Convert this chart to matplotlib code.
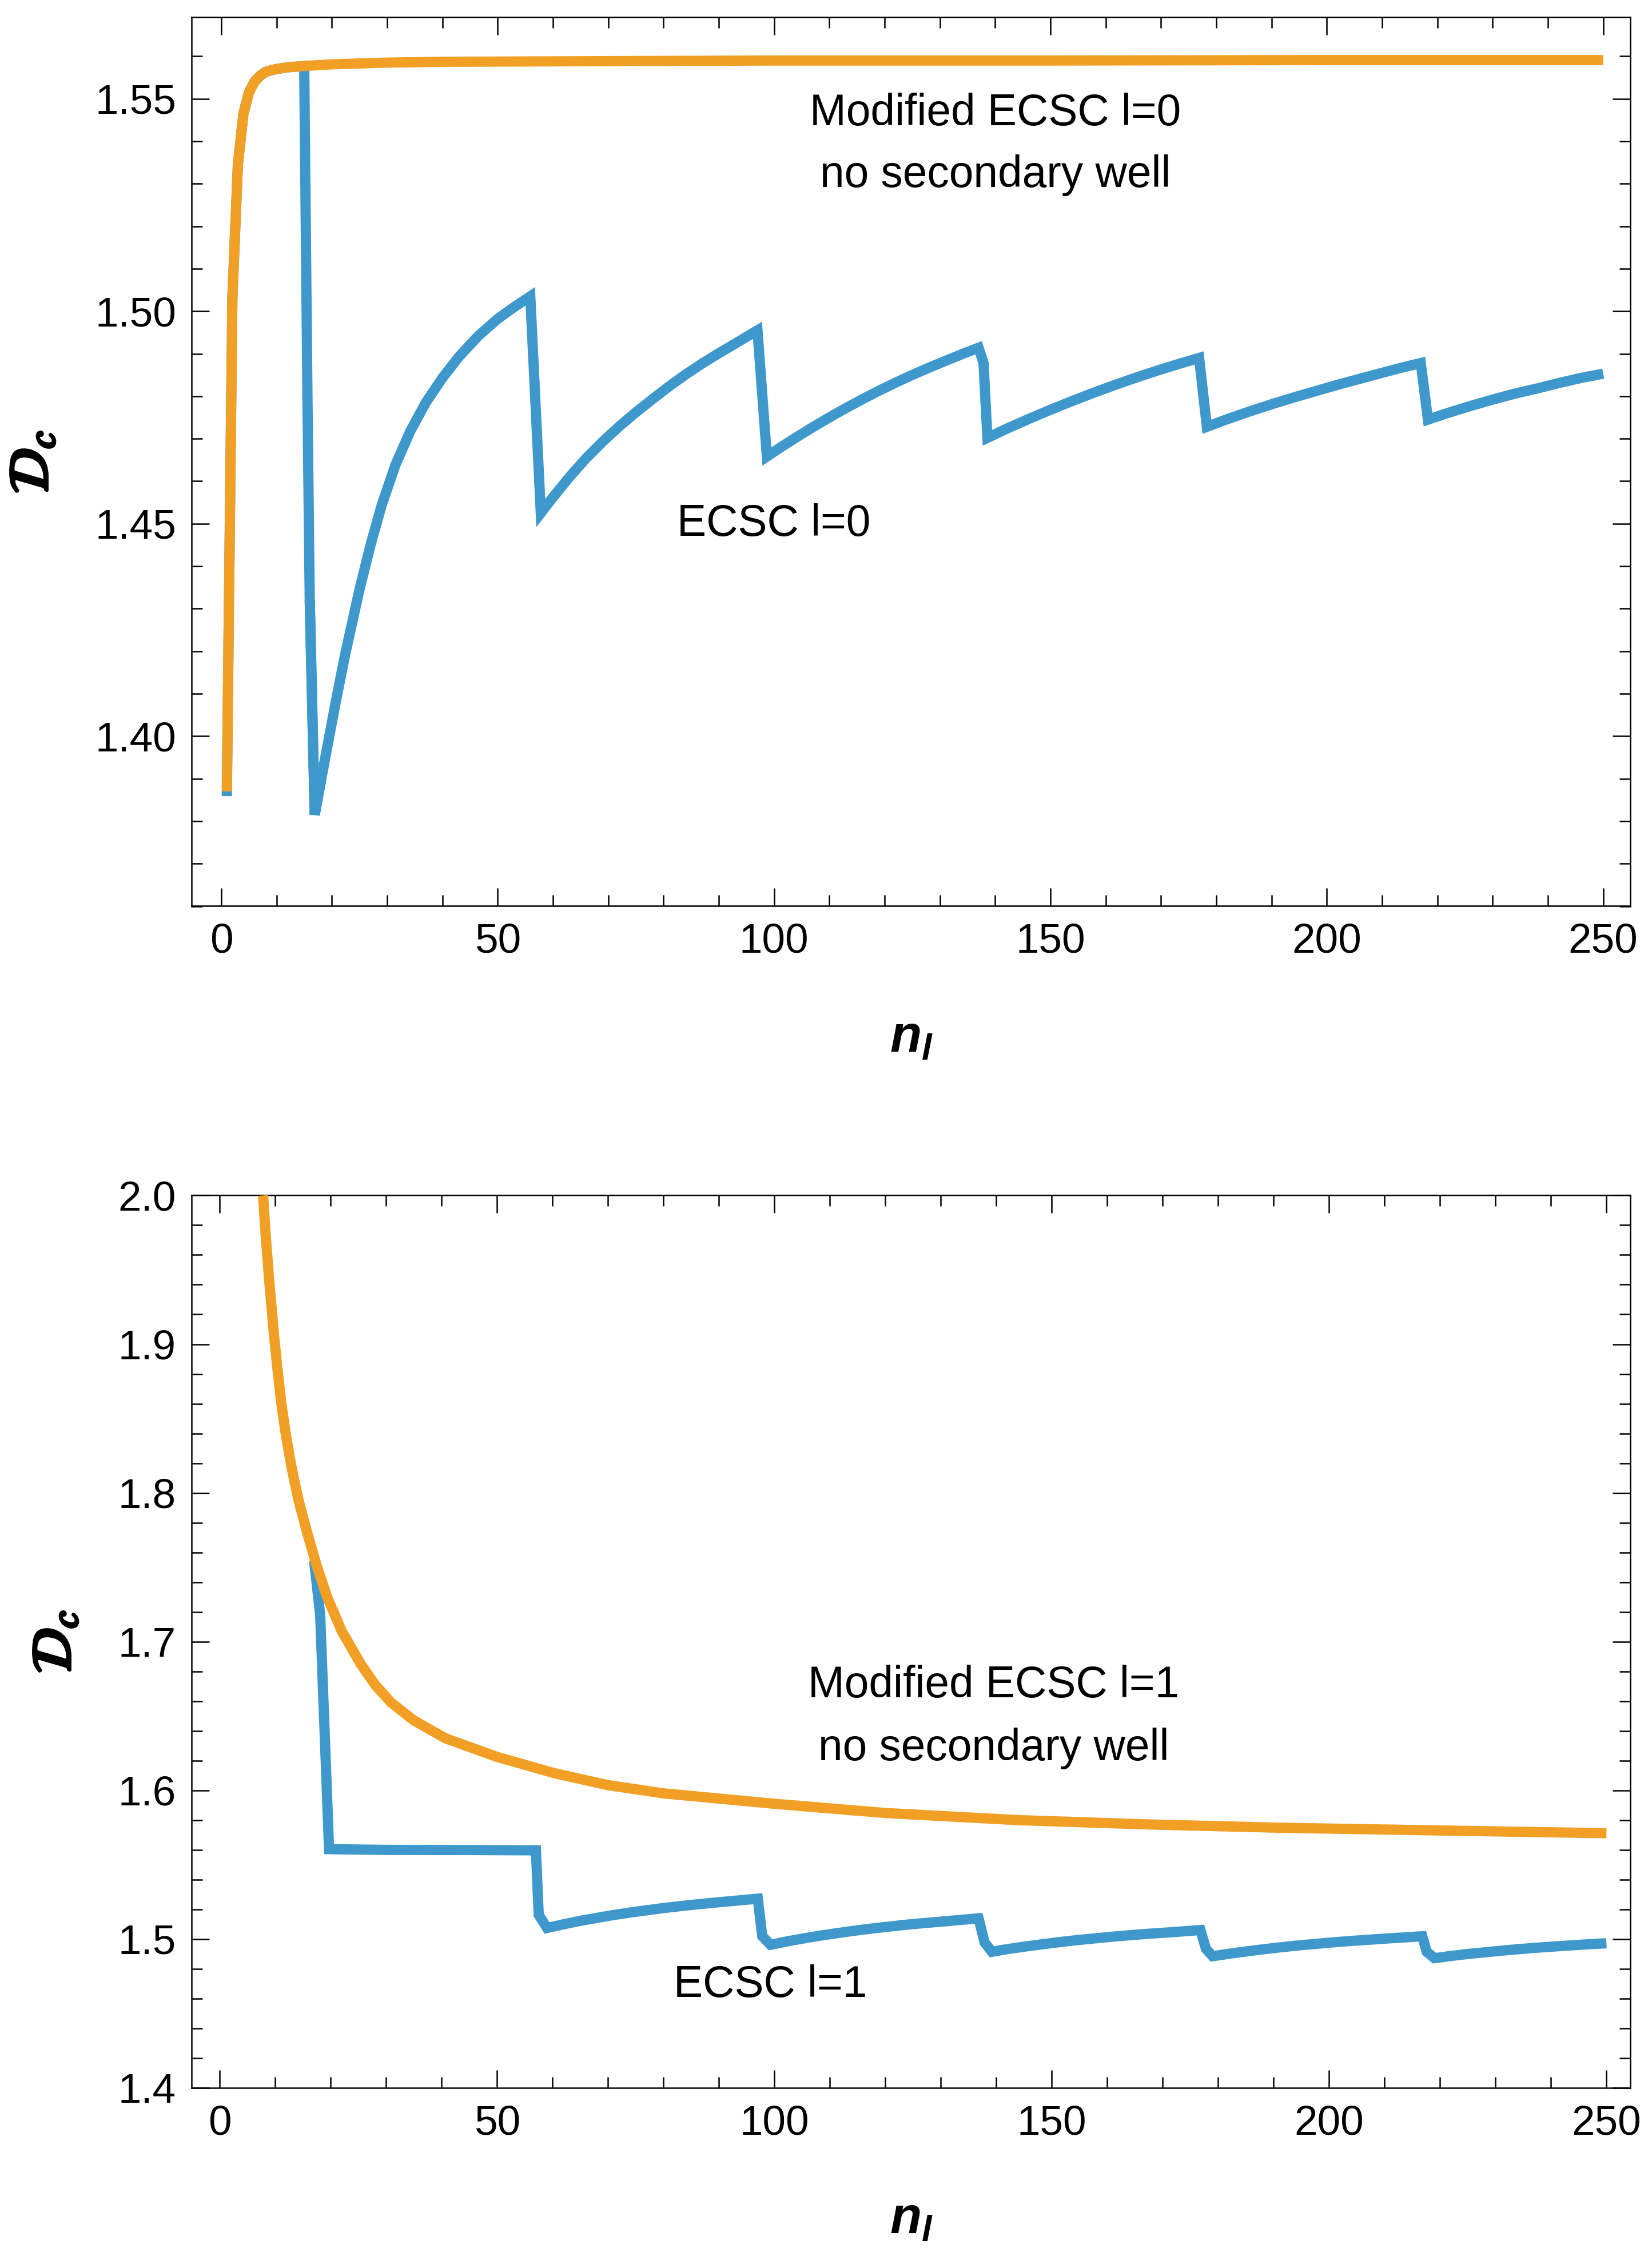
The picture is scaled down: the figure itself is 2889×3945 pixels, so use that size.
import matplotlib
matplotlib.use("Agg")
import matplotlib.pyplot as plt
from matplotlib.ticker import MultipleLocator, FormatStrFormatter
import matplotlib.patheffects as pe

plt.rcParams['font.family'] = ['Liberation Sans', 'DejaVu Sans']
plt.rcParams['mathtext.fontset'] = 'custom'
plt.rcParams['mathtext.it'] = 'Liberation Sans:italic:bold'
plt.rcParams['mathtext.rm'] = 'Liberation Sans:bold'
plt.rcParams['mathtext.bf'] = 'Liberation Sans:bold'

# ---------------- data ----------------
# top panel, l = 0
mod0_n = [1, 2, 3, 4, 5, 6, 7, 8, 9, 10, 12, 15, 20, 25, 30, 40, 60, 100, 150, 200, 250]
mod0_v = [1.3870, 1.5030, 1.5345, 1.5465, 1.5515, 1.5540, 1.5554, 1.5563, 1.5567, 1.5570,
          1.5574, 1.5577, 1.5581, 1.5583, 1.5585, 1.5587, 1.5588, 1.5590, 1.5590, 1.5591, 1.5591]

ecsc0_n = [1, 2, 3, 4, 5, 6, 7, 8, 9, 10, 12, 15,
           15.6, 16.0, 16.9,
           18.0, 19.0, 20.7, 22.4, 25.0, 27.0, 29.0, 31.5, 34.2, 37.0, 40.0, 43.0, 46.5, 50.0, 53.0, 55.9,
           57.8,
           60, 63, 66, 69, 72, 75, 78, 81, 84, 87, 90, 93, 97,
           98.7,
           101, 104, 107, 110, 113, 116, 119, 122, 125, 128, 131, 134, 137,
           137.9, 138.6,
           142, 146, 150, 154, 158, 162, 166, 170, 173.5, 176.9,
           178.3,
           182, 186, 190, 194, 198, 202, 206, 210, 213.5, 217.0,
           218.3,
           222, 226, 230, 234, 238, 242, 246, 250]
ecsc0_v = [1.3859, 1.5030, 1.5345, 1.5465, 1.5515, 1.5540, 1.5554, 1.5563, 1.5567, 1.5570, 1.5574, 1.5577,
           1.4780, 1.4320, 1.3815,
           1.3893, 1.3963, 1.4080, 1.4192, 1.4345, 1.4450, 1.4543, 1.4638, 1.4718, 1.4785, 1.4843,
           1.4893, 1.4942, 1.4982, 1.5010, 1.5035,
           1.4525,
           1.4562, 1.4610, 1.4654, 1.4693, 1.4729, 1.4762, 1.4793, 1.4823, 1.4851, 1.4877, 1.4901,
           1.4924, 1.4955,
           1.4658,
           1.4678, 1.4703, 1.4727, 1.4750, 1.4772, 1.4793, 1.4813, 1.4832, 1.4850, 1.4867, 1.4883,
           1.4899, 1.4914,
           1.4878, 1.4702,
           1.4723, 1.4746, 1.4768, 1.4789, 1.4809, 1.4828, 1.4846, 1.4863, 1.4877, 1.4890,
           1.4728,
           1.4746, 1.4764, 1.4781, 1.4797, 1.4812, 1.4827, 1.4841, 1.4855, 1.4867, 1.4878,
           1.4745,
           1.4761, 1.4777, 1.4792, 1.4806, 1.4818, 1.4831, 1.4843, 1.4853]

# bottom panel, l = 1
mod1_n = [7.8, 8.3, 8.9, 9.8, 10.4, 11.1, 12.0, 13.0, 14.2, 15.7, 17.4, 19.35, 22.0, 25.4, 28.0,
          30.9, 35.0, 40.7, 50.0, 60.4, 70.0, 80.0, 100.0, 120.0, 144.0, 167.6, 191.0, 214.5, 250.0]
mod1_v = [2.000, 1.972, 1.943, 1.905, 1.883, 1.860, 1.837, 1.816, 1.795, 1.774, 1.752, 1.730, 1.707,
          1.685, 1.671, 1.659, 1.647, 1.635, 1.6225, 1.6115, 1.6035, 1.598, 1.591, 1.5848, 1.580,
          1.5771, 1.5749, 1.5734, 1.5712]

ecsc1_n = [17.0, 18.1, 19.7, 30, 45, 57.0,
           57.5, 59.0,
           62, 65, 68, 71, 74, 77, 80, 84, 88, 92, 97.0,
           97.8, 99.3,
           102.3, 105.3, 108.3, 111.3, 114.3, 117.3, 120.3, 124.3, 128.3, 132.3, 136.8,
           137.9, 139.2,
           142.2, 145.2, 148.2, 151.2, 154.2, 157.2, 160.2, 164.2, 168.2, 172.2, 176.8,
           177.8, 179.0,
           182, 185, 188, 191, 194, 197, 200, 204, 208, 212, 216.8,
           217.6, 219.0,
           222, 225, 228, 231, 234, 237, 240, 244, 247, 250]
ecsc1_v = [1.7545, 1.7180, 1.5605, 1.5600, 1.5599, 1.5597,
           1.5163, 1.5075,
           1.5100, 1.5123, 1.5143, 1.5162, 1.5179, 1.5194, 1.5209, 1.5226, 1.5241, 1.5255, 1.5272,
           1.5020, 1.4962,
           1.4985, 1.5005, 1.5024, 1.5040, 1.5056, 1.5070, 1.5083, 1.5099, 1.5112, 1.5125, 1.5140,
           1.4977, 1.4915,
           1.4934, 1.4950, 1.4965, 1.4979, 1.4992, 1.5003, 1.5014, 1.5027, 1.5038, 1.5048, 1.5061,
           1.4935, 1.4885,
           1.4902, 1.4917, 1.4931, 1.4944, 1.4956, 1.4966, 1.4976, 1.4988, 1.4998, 1.5008, 1.5019,
           1.4915, 1.4872,
           1.4887, 1.4900, 1.4911, 1.4922, 1.4932, 1.4941, 1.4949, 1.4959, 1.4966, 1.4972]

x_ticks_labels = ["0", "50", "100", "150", "200", "250"]

BLUE = '#3e98cb'
ORANGE = '#f1a025'

# ---------------- figure ----------------
W, H = 2889, 3945
DPI = 300
fig = plt.figure(figsize=(W / DPI, H / DPI), dpi=DPI, facecolor='white')


def px_axes(l, t, r, b):
    return fig.add_axes([l / W, 1 - b / H, (r - l) / W, (b - t) / H])


ax1 = px_axes(335, 30, 2851, 1584.5)
ax2 = px_axes(335, 2090.4, 2851, 3651)

LW = 4.3
kw = dict(lw=LW, solid_capstyle='butt')

# top panel: blue drawn in two pieces joined by a bevelled vertex at the sharp minimum
vmin = ecsc0_v.index(min(ecsc0_v))
ax1.plot(ecsc0_n[:vmin + 1], ecsc0_v[:vmin + 1], color=BLUE, solid_joinstyle='miter', zorder=2, **kw)
ax1.plot(ecsc0_n[vmin:], ecsc0_v[vmin:], color=BLUE, solid_joinstyle='miter', zorder=2, **kw)
ax1.plot(ecsc0_n[vmin - 1:vmin + 2], ecsc0_v[vmin - 1:vmin + 2], color=BLUE,
         solid_joinstyle='bevel', zorder=2, **kw)
ax1.plot(mod0_n, mod0_v, color=ORANGE, solid_joinstyle='miter', zorder=3, **kw)

ax2.plot(ecsc1_n, ecsc1_v, color=BLUE, solid_joinstyle='miter', zorder=2, **kw)
ax2.plot(mod1_n, mod1_v, color=ORANGE, solid_joinstyle='miter', zorder=3, **kw)

for ax in (ax1, ax2):
    ax.set_xticks([0, 50, 100, 150, 200, 250])
    ax.set_xticklabels(x_ticks_labels)
    ax.xaxis.set_minor_locator(MultipleLocator(10))
    ax.tick_params(which='both', direction='in', top=True, right=True, width=0.6, colors='black')
    ax.tick_params(which='major', length=7.4, labelsize=17.5)
    ax.tick_params(which='minor', length=4.5)
    ax.tick_params(axis='x', which='major', pad=7)
    ax.tick_params(axis='y', which='major', pad=6.5)
    for s in ax.spines.values():
        s.set_linewidth(0.6)

ax1.set_xlim(-5.38, 254.9)
ax1.set_ylim(1.3600, 1.5692)
ax1.yaxis.set_major_locator(MultipleLocator(0.05))
ax1.yaxis.set_minor_locator(MultipleLocator(0.01))
ax1.yaxis.set_major_formatter(FormatStrFormatter('%.2f'))

ax2.set_xlim(-5.09, 254.3)
ax2.set_ylim(1.4, 2.0)
ax2.yaxis.set_major_locator(MultipleLocator(0.1))
ax2.yaxis.set_minor_locator(MultipleLocator(0.02))
ax2.yaxis.set_major_formatter(FormatStrFormatter('%.1f'))

FS = 18.4
ax1.text(140.0, 1.5465, 'Modified ECSC l=0', fontsize=FS, ha='center', va='center')
ax1.text(140.0, 1.5320, 'no secondary well', fontsize=FS, ha='center', va='center')
ax1.text(99.9, 1.4499, 'ECSC l=0', fontsize=FS, ha='center', va='center')

ax2.text(139.5, 1.6703, 'Modified ECSC l=1', fontsize=FS, ha='center', va='center')
ax2.text(139.5, 1.6281, 'no secondary well', fontsize=FS, ha='center', va='center')
ax2.text(99.3, 1.4689, 'ECSC l=1', fontsize=FS, ha='center', va='center')

# axis labels
for yb in (1840, 3906):
    fig.text(1594 / W, 1 - yb / H, r'$n_l$', fontsize=21.7, ha='center', va='baseline',
             math_fontfamily='custom')
for (xc, yc) in ((58, 808), (98, 2871)):
    fig.text(xc / W, 1 - yc / H, r'$\mathcal{D}_c$', fontsize=23, rotation=90,
             ha='center', va='center', math_fontfamily='stix',
             path_effects=[pe.withStroke(linewidth=1.3, foreground='black')])

fig.savefig('out.png', dpi=DPI, facecolor='white')
